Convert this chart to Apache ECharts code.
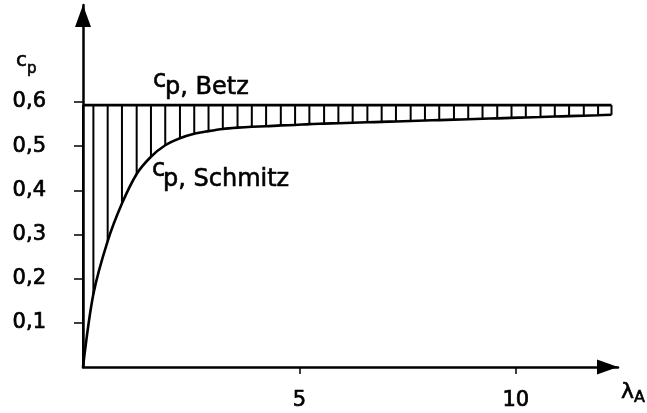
<!DOCTYPE html>
<html><head><meta charset="utf-8">
<script src="https://cdn.jsdelivr.net/npm/echarts@6/dist/echarts.min.js"></script>
<style>html,body{margin:0;padding:0;background:#fff}#c{width:647px;height:413px}</style>
</head><body><div id="c"></div>
<script>
// Tip speed ratio positions of the hatch lines
const lambdaA = [0, 0.24, 0.57, 0.90, 1.24, 1.57, 1.90, 2.24, 2.57, 2.90,
  3.23, 3.57, 3.90, 4.23, 4.57, 4.90, 5.23, 5.57, 5.90, 6.23,
  6.57, 6.90, 7.23, 7.57, 7.90, 8.23, 8.57, 8.90, 9.23, 9.57,
  9.90, 10.23, 10.57, 10.90, 11.23, 11.57, 11.90, 12.21];
// Power coefficient after Schmitz at those positions
const cpSchmitz = [0, 0.165, 0.285, 0.37, 0.437, 0.476, 0.502, 0.518, 0.528, 0.534,
  0.539, 0.542, 0.544, 0.545, 0.547, 0.548, 0.550, 0.551, 0.552, 0.553,
  0.554, 0.555, 0.556, 0.557, 0.558, 0.559, 0.560, 0.561, 0.562, 0.563,
  0.564, 0.565, 0.566, 0.567, 0.568, 0.569, 0.570, 0.571];
// Betz limit
const betzLambda = [0, 12.21];
const betzCp = [0.593, 0.593];
const yTicks = [0.1, 0.2, 0.3, 0.4, 0.5, 0.6];
const xTicks = [5, 10];

const FONT = 'DejaVu Sans';
const txt = (x, y, text, size) => ({type: 'text', x, y, silent: true,
  style: {text, fontFamily: FONT, fontSize: size, fill: '#000', stroke: '#000', lineWidth: 0.6, verticalAlign: 'middle'}});

const chart = echarts.init(document.getElementById('c'), null, {renderer: 'canvas'});
chart.setOption({
  animation: false,
  backgroundColor: '#fff',
  grid: {left: 83, top: 5, right: 29, bottom: 46, containLabel: false, outerBoundsMode: 'none'},
  xAxis: {
    type: 'value', min: 0, max: 12.36,
    splitLine: {show: false},
    axisLine: {show: true, onZero: true, symbol: ['none', 'triangle'], symbolSize: [15, 21], symbolOffset: [0, -10.5],
      lineStyle: {color: '#000', width: 2.5}},
    axisTick: {show: true, customValues: xTicks, length: 7, lineStyle: {color: '#000', width: 1.5}},
    axisLabel: {customValues: xTicks, color: '#000', fontFamily: FONT, fontSize: 21, margin: 23,
      textBorderColor: '#000', textBorderWidth: 0.7}
  },
  yAxis: {
    type: 'value', min: 0, max: 0.8196,
    splitLine: {show: false},
    axisLine: {show: true, symbol: ['none', 'triangle'], symbolSize: [16, 22], symbolOffset: [0, -11],
      lineStyle: {color: '#000', width: 2.5}},
    axisTick: {show: true, customValues: yTicks, length: 9, lineStyle: {color: '#000', width: 1.5}},
    axisLabel: {customValues: yTicks, color: '#000', fontFamily: FONT, fontSize: 21, margin: 37,
      textBorderColor: '#000', textBorderWidth: 0.7,
      formatter: v => v.toFixed(1).replace('.', ',')}
  },
  series: [
    {
      type: 'custom', silent: true, clip: false, z: 1,
      data: lambdaA.map((l, i) => [l, cpSchmitz[i]]),
      renderItem: (params, api) => {
        const p1 = api.coord([api.value(0), betzCp[0]]);
        const p2 = api.coord([api.value(0), api.value(1)]);
        return {type: 'line', shape: {x1: p1[0], y1: p1[1], x2: p2[0], y2: p2[1]},
          style: {stroke: '#000', lineWidth: 2}};
      }
    },
    {
      type: 'line', name: 'cp, Schmitz', symbol: 'none', smooth: 0.3, z: 3,
      data: lambdaA.map((l, i) => [l, cpSchmitz[i]]),
      lineStyle: {color: '#000', width: 2.6}
    },
    {
      type: 'line', name: 'cp, Betz', symbol: 'none', z: 3,
      data: betzLambda.map((l, i) => [l, betzCp[i]]),
      lineStyle: {color: '#000', width: 2.6}
    }
  ],
  graphic: [
    txt(16, 61, 'c', 20),
    txt(27, 69, 'p', 15),
    txt(153, 81, 'c', 24),
    txt(165, 88, 'p, Betz', 24),
    txt(152, 170, 'c', 24),
    txt(163, 180, 'p, Schmitz', 24),
    txt(621, 392, 'λ', 22),
    txt(634, 398, 'A', 16)
  ]
});
</script>
</body></html>
